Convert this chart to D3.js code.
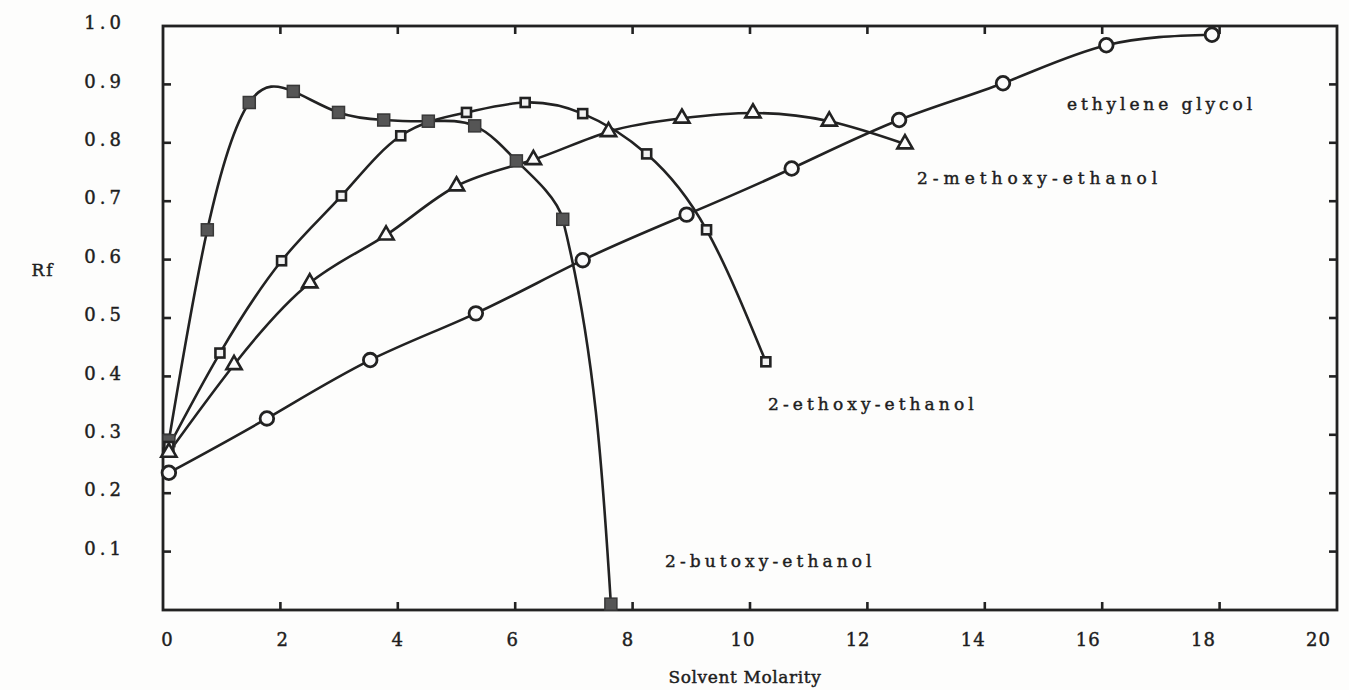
<!DOCTYPE html>
<html>
<head>
<meta charset="utf-8">
<script src="https://cdn.jsdelivr.net/npm/d3@7"></script>
<style>
  html, body { margin: 0; padding: 0; background: #fdfdfc; }
  svg { display: block; }
  text { font-family: "DejaVu Serif", serif; fill: #1e1e1e; stroke: #1e1e1e; stroke-width: 0.45px; }
</style>
</head>
<body>
<svg id="chart" width="1349" height="690"></svg>
<script>
// Rf versus solvent molarity for four solvents
const butoxyX  = [0.1, 0.755, 1.47, 2.22, 2.99, 3.76, 4.52, 5.31, 6.02, 6.81, 7.63];
const butoxyY  = [0.29, 0.651, 0.869, 0.888, 0.852, 0.839, 0.837, 0.829, 0.769, 0.669, 0.01];

const ethoxyX  = [0.1, 0.97, 2.02, 3.04, 4.05, 5.17, 6.17, 7.15, 8.24, 9.26, 10.27];
const ethoxyY  = [0.28, 0.44, 0.598, 0.709, 0.812, 0.852, 0.869, 0.850, 0.781, 0.651, 0.425];

const methoxyX = [0.1, 1.21, 2.5, 3.8, 5.0, 6.31, 7.59, 8.84, 10.05, 11.35, 12.64];
const methoxyY = [0.27, 0.42, 0.56, 0.642, 0.726, 0.771, 0.819, 0.842, 0.851, 0.837, 0.798];

const glycolX  = [0.1, 1.77, 3.53, 5.33, 7.15, 8.92, 10.71, 12.54, 14.31, 16.07, 17.87];
const glycolY  = [0.235, 0.328, 0.428, 0.508, 0.599, 0.677, 0.756, 0.839, 0.902, 0.967, 0.985];

const xTicks = [0, 2, 4, 6, 8, 10, 12, 14, 16, 18, 20];
const yTicks = [0.1, 0.2, 0.3, 0.4, 0.5, 0.6, 0.7, 0.8, 0.9, 1.0];
const yTickLabels = ["0.1", "0.2", "0.3", "0.4", "0.5", "0.6", "0.7", "0.8", "0.9", "1.0"];

const seriesNames = ["2-butoxy-ethanol", "2-ethoxy-ethanol", "2-methoxy-ethanol", "ethylene glycol"];

const svg = d3.select("#chart");
const ink = "#222";

const x = d3.scaleLinear().domain([0, 20]).range([163, 1337]);
const y = d3.scaleLinear().domain([0, 1]).range([610, 26]);
// tick numerals sit on a slightly narrower band than the tick marks
const xLab = d3.scaleLinear().domain([0, 20]).range([167, 1318]);

// frame
svg.append("rect")
  .attr("x", x(0)).attr("y", y(1))
  .attr("width", x(20) - x(0)).attr("height", y(0) - y(1))
  .attr("fill", "none").attr("stroke", ink).attr("stroke-width", 2.8);

// inward ticks on all four sides
const tickLen = 8;
const g = svg.append("g").attr("stroke", ink).attr("stroke-width", 2.6);
xTicks.slice(1, -1).forEach(v => {
  g.append("line").attr("x1", x(v)).attr("x2", x(v)).attr("y1", y(0)).attr("y2", y(0) - tickLen);
  g.append("line").attr("x1", x(v)).attr("x2", x(v)).attr("y1", y(1)).attr("y2", y(1) + tickLen);
});
yTicks.slice(0, -1).forEach(v => {
  g.append("line").attr("x1", x(0)).attr("x2", x(0) + tickLen).attr("y1", y(v)).attr("y2", y(v));
  g.append("line").attr("x1", x(20)).attr("x2", x(20) - tickLen).attr("y1", y(v)).attr("y2", y(v));
});

// x tick numerals
const xAxis = d3.axisBottom(xLab).tickValues(xTicks).tickFormat(d3.format("d")).tickSize(0).tickPadding(0);
svg.append("g").attr("transform", "translate(0,646)").call(xAxis)
  .call(s => s.select(".domain").remove())
  .call(s => s.attr("font-family", null).attr("font-size", null))
  .selectAll("text")
  .attr("font-size", 18).attr("dy", 0)
  .attr("letter-spacing", "1px");

// y tick numerals
const yAxis = d3.axisLeft(y).tickValues(yTicks).tickFormat((d, i) => yTickLabels[i]).tickSize(0).tickPadding(0);
svg.append("g").attr("transform", "translate(125,-3)").call(yAxis)
  .call(s => s.select(".domain").remove())
  .call(s => s.attr("font-family", null).attr("font-size", null))
  .selectAll("text")
  .attr("font-size", 18)
  .attr("letter-spacing", "4px");

// axis titles
svg.append("text").attr("x", 745).attr("y", 683).attr("text-anchor", "middle")
  .attr("font-size", 17).attr("letter-spacing", "0.6px").text("Solvent Molarity");
svg.append("text").attr("x", 43).attr("y", 276).attr("text-anchor", "middle")
  .attr("font-size", 17).attr("letter-spacing", "2px").text("Rf");

// each series: head drawn as a smooth spline; an optional steep tail drawn as a function of y
const series = [
  { xs: butoxyX,  ys: butoxyY,  mark: "filledSquare", tailFrom: 8 },
  { xs: ethoxyX,  ys: ethoxyY,  mark: "openSquare" },
  { xs: methoxyX, ys: methoxyY, mark: "triangle" },
  { xs: glycolX,  ys: glycolY,  mark: "circle" }
];

const lineHead = d3.line().x(d => x(d[0])).y(d => y(d[1])).curve(d3.curveNatural);
const lineTail = d3.line().x(d => x(d[0])).y(d => y(d[1])).curve(d3.curveMonotoneY);

series.forEach(s => {
  const pts = s.xs.map((v, i) => [v, s.ys[i]]);
  const cut = s.tailFrom ?? pts.length - 1;
  svg.append("path").attr("d", lineHead(pts.slice(0, cut + 1)))
    .attr("fill", "none").attr("stroke", ink).attr("stroke-width", 2.6);
  if (cut < pts.length - 1) {
    svg.append("path").attr("d", lineTail(pts.slice(cut)))
      .attr("fill", "none").attr("stroke", ink).attr("stroke-width", 2.6);
  }
});

// markers
series.forEach(s => {
  const pts = s.xs.map((v, i) => [v, s.ys[i]]);
  const mg = svg.append("g");
  pts.forEach(p => {
    const cx = x(p[0]), cy = y(p[1]);
    if (s.mark === "filledSquare") {
      mg.append("rect").attr("x", cx - 6).attr("y", cy - 6).attr("width", 12).attr("height", 12)
        .attr("fill", "#555").attr("stroke", "#383838").attr("stroke-width", 1.5);
    } else if (s.mark === "openSquare") {
      mg.append("rect").attr("x", cx - 4.5).attr("y", cy - 4.5).attr("width", 9).attr("height", 9)
        .attr("fill", "#f2f2f2").attr("stroke", ink).attr("stroke-width", 2.6);
    } else if (s.mark === "triangle") {
      const sym = d3.symbol().type(d3.symbolTriangle).size(100);
      mg.append("path").attr("d", sym()).attr("transform", `translate(${cx},${cy})`)
        .attr("fill", "#fbfbfb").attr("stroke", ink).attr("stroke-width", 2.6);
    } else {
      mg.append("circle").attr("cx", cx).attr("cy", cy).attr("r", 6.8)
        .attr("fill", "#fbfbfb").attr("stroke", ink).attr("stroke-width", 2.8);
    }
  });
});

// series labels
const labelPos = [[665, 567], [768, 410], [917, 184], [1067, 110]];
const labelSpacing = [4.1, 4.1, 5.0, 3.9];
seriesNames.forEach((name, i) => {
  svg.append("text").attr("x", labelPos[i][0]).attr("y", labelPos[i][1])
    .attr("font-size", 17).attr("letter-spacing", labelSpacing[i] + "px").text(name);
});
</script>
</body>
</html>
